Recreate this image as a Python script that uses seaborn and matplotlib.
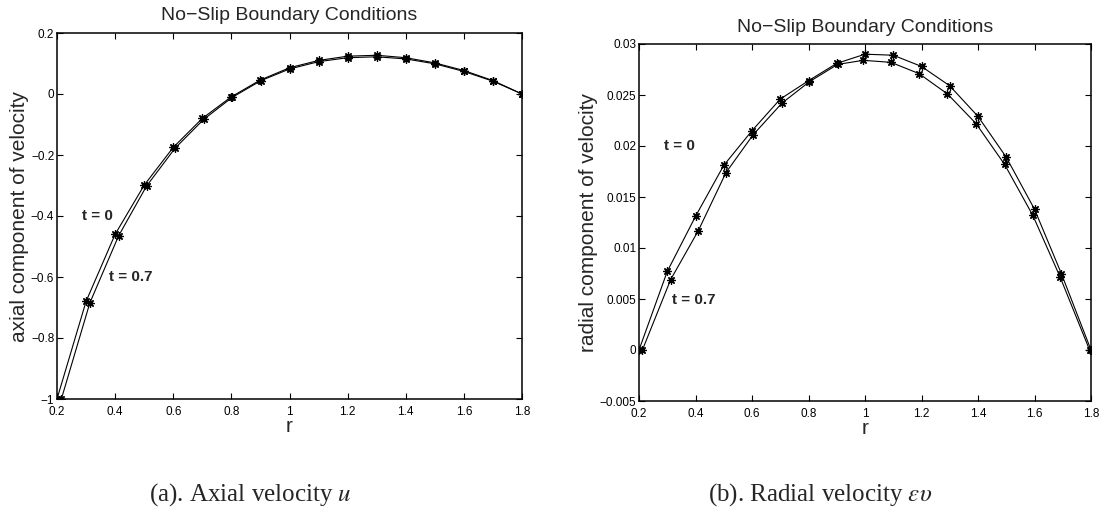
import seaborn as sns
import matplotlib.pyplot as plt
import pandas as pd
from matplotlib.ticker import FuncFormatter

# axial velocity u
r_u0 = [0.2, 0.3, 0.4, 0.5, 0.6, 0.7, 0.8, 0.9, 1.0, 1.1, 1.2, 1.3, 1.4, 1.5, 1.6, 1.7, 1.8]
u_t0 = [-1.0, -0.68, -0.46, -0.299, -0.175, -0.08, -0.009, 0.046, 0.086, 0.110, 0.124, 0.127, 0.119, 0.102, 0.077, 0.044, 0.0]
r_u7 = [0.215, 0.313, 0.412, 0.508, 0.606, 0.705, 0.803, 0.902, 1.0, 1.1, 1.2, 1.3, 1.4, 1.5, 1.6, 1.7, 1.8]
u_t7 = [-1.0, -0.685, -0.465, -0.302, -0.178, -0.083, -0.011, 0.044, 0.082, 0.106, 0.119, 0.122, 0.115, 0.099, 0.074, 0.042, 0.0]

# radial velocity eps*v
r_v0 = [0.2, 0.3, 0.4, 0.5, 0.6, 0.7, 0.8, 0.9, 1.0, 1.1, 1.2, 1.3, 1.4, 1.5, 1.6, 1.695, 1.8]
v_t0 = [0.0, 0.0077, 0.0131, 0.0181, 0.0215, 0.0246, 0.0264, 0.0281, 0.0290, 0.0289, 0.0278, 0.0259, 0.0229, 0.0189, 0.0138, 0.0075, 0.0]
r_v7 = [0.212, 0.312, 0.41, 0.508, 0.604, 0.706, 0.803, 0.903, 0.994, 1.092, 1.191, 1.292, 1.393, 1.494, 1.594, 1.69, 1.795]
v_t7 = [0.0, 0.0069, 0.0117, 0.0174, 0.0211, 0.0242, 0.0263, 0.0280, 0.0284, 0.0282, 0.0271, 0.0251, 0.0222, 0.0182, 0.0132, 0.0072, 0.0]

xticks = [0.2, 0.4, 0.6, 0.8, 1.0, 1.2, 1.4, 1.6, 1.8]
u_ticks = [-1, -0.8, -0.6, -0.4, -0.2, 0, 0.2]
v_ticks = [-0.005, 0, 0.005, 0.01, 0.015, 0.02, 0.025, 0.03]

sns.set_style("ticks")
plt.rcParams['font.family'] = ['Liberation Sans', 'DejaVu Sans']
plt.rcParams['mathtext.fontset'] = 'stix'
plt.rcParams.update({
    'xtick.direction': 'in', 'ytick.direction': 'in',
    'xtick.top': True, 'ytick.right': True,
    'xtick.major.size': 4, 'ytick.major.size': 4,
    'xtick.color': 'black', 'ytick.color': 'black',
    'axes.edgecolor': 'black', 'axes.linewidth': 1.1,
})

fig = plt.figure(figsize=(11, 5.16), dpi=100)
ax1 = fig.add_axes([57/1100, 1-399/516, 465/1100, 366/516])
ax2 = fig.add_axes([639/1100, 1-401/516, 452/1100, 357/516])

mk = dict(marker=(8, 2, 0), markersize=6, markeredgewidth=0.9,
          markeredgecolor='black', markerfacecolor='black', color='black',
          linewidth=0.8, sort=False, legend=False)

def panel(ax, ra, ya, rb, yb):
    df_a = pd.DataFrame({'r': ra, 'val': ya})
    df_b = pd.DataFrame({'r': rb, 'val': yb})
    sns.lineplot(data=df_a, x='r', y='val', ax=ax, **mk)
    sns.lineplot(data=df_b, x='r', y='val', ax=ax, **mk)
    ax.set_xlim(0.2, 1.8)
    ax.set_xticks(xticks)
    fmt = FuncFormatter(lambda v, p: ('%g' % v).replace('-', '\u2212'))
    ax.xaxis.set_major_formatter(fmt)
    ax.yaxis.set_major_formatter(fmt)
    ax.tick_params(axis='y', labelsize=8.5, pad=2)
    ax.tick_params(axis='x', labelsize=8.5, pad=5)
    for s in ax.spines.values():
        s.set_visible(True)
    ax.set_title('No\u2212Slip Boundary Conditions', fontsize=14, pad=9)
    ax.set_xlabel('r', fontsize=15, labelpad=-1)

panel(ax1, r_u0, u_t0, r_u7, u_t7)
ax1.set_ylim(-1, 0.2)
ax1.set_yticks(u_ticks)
ax1.set_ylabel('axial component of velocity', fontsize=15, labelpad=1)
ax1.text(0.285, -0.4, 't = 0', fontsize=11, fontweight='bold', va='center')
ax1.text(0.38, -0.6, 't = 0.7', fontsize=11, fontweight='bold', va='center')

panel(ax2, r_v0, v_t0, r_v7, v_t7)
ax2.set_ylim(-0.005, 0.03)
ax2.set_yticks(v_ticks)
ax2.set_ylabel('radial component of velocity', fontsize=15, labelpad=1)
ax2.text(0.29, 0.02, 't = 0', fontsize=11, fontweight='bold', va='center')
ax2.text(0.317, 0.0049, 't = 0.7', fontsize=11, fontweight='bold', va='center')

fig.text(250/1100, 1-495/516, '(a). Axial velocity $u$', fontsize=18,
         family='Liberation Serif', ha='center', va='center')
fig.text(820/1100, 1-495/516, r'(b). Radial velocity $\varepsilon\upsilon$', fontsize=18,
         family='Liberation Serif', ha='center', va='center')

fig.savefig('out.png', dpi=100)
